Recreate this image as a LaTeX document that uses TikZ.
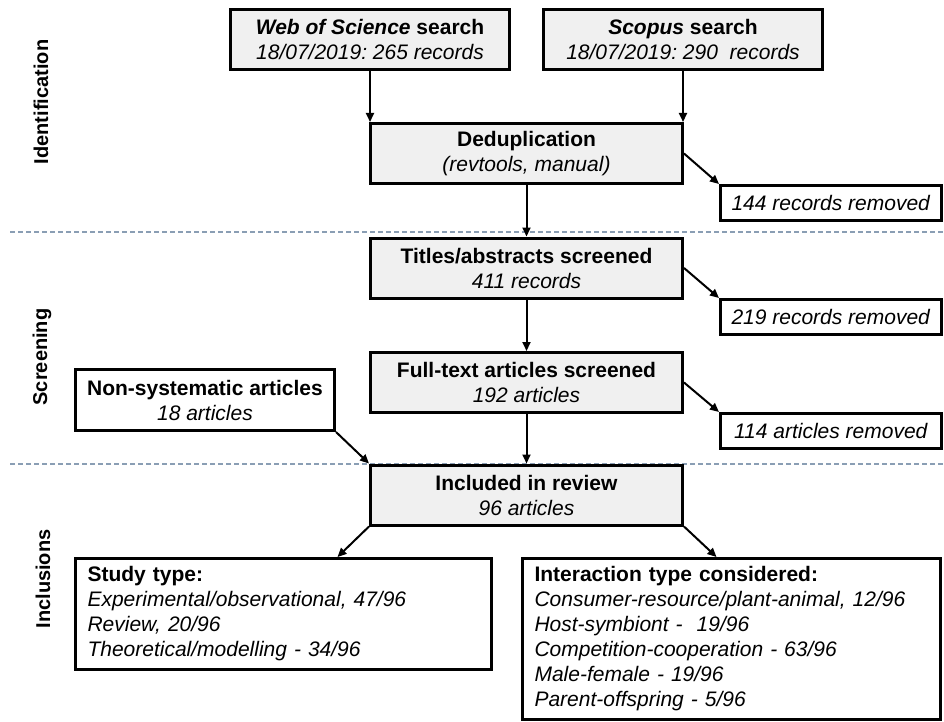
\documentclass[tikz,border=0pt]{standalone}
\usepackage{fontspec}
\setmainfont{Liberation Sans}
\frenchspacing
\usetikzlibrary{arrows.meta}
\definecolor{boxgray}{RGB}{240,240,240}
\definecolor{sepblue}{RGB}{138,158,180}
\tikzset{
  txt/.style={font=\fontsize{21}{25}\selectfont},
  graybox/.style={txt, draw, line width=3pt, fill=boxgray, align=center, inner sep=0pt, minimum width=312pt, minimum height=60pt},
  srcbox/.style={graybox, minimum width=279pt},
  rembox/.style={txt, draw, line width=3pt, fill=white, inner sep=0pt, minimum width=221pt, minimum height=35pt},
  listbox/.style={txt, draw, line width=3pt, fill=white, align=left, inner xsep=12pt, inner ysep=0pt},
  arr/.style={line width=2pt, -{Triangle[length=9pt,width=8pt]}},
  sep/.style={sepblue, line width=1.2pt, dash pattern=on 5pt off 3pt},
  phase/.style={font=\fontsize{20}{25}\selectfont\bfseries, rotate=90}
}
\begin{document}
\begin{tikzpicture}[x=1pt, y=-1pt]
\useasboundingbox (0,0) rectangle (944,722);
% stage separators
\draw[sep] (10,232) -- (944,232);
\draw[sep] (10,464) -- (944,464);
\node[phase] (idlab) at (41,102) {Identification};
\node[phase] (scrlab) at (42,357) {Screening};
\node[phase] (inclab) at (43,579) {Inclusions};
% identification
\node[srcbox] (wos) at (370,40) {\textbf{\textit{Web of Science} search}\\ \textit{18/07/2019: 265 records}};
\node[srcbox] (scopus) at (683,40) {\textbf{\textit{Scopus} search}\\ \textit{18/07/2019: 290\ \ records}};
\node[graybox] (dedup) at (526.5,153.5) {\textbf{Deduplication}\\ \textit{(revtools, manual)}};
\node[rembox] (rem1) at (831,203) {\textit{144 records removed}};
\draw[arr] (wos.south) -- (wos.south |- dedup.north);
\draw[arr] (scopus.south) -- (scopus.south |- dedup.north);
\draw[arr] (dedup.east) -- (rem1.north west);
% screening
\node[graybox] (titles) at (526.5,268) {\textbf{Titles/abstracts screened}\\ \textit{411 records}};
\node[rembox] (rem2) at (831,317) {\textit{219 records removed}};
\node[graybox] (fulltext) at (526.5,382.5) {\textbf{Full-text articles screened}\\ \textit{192 articles}};
\node[rembox] (rem3) at (831,431) {\textit{114 articles removed}};
\node[rembox, align=center, minimum width=259pt, minimum height=61pt] (nonsys) at (205,400) {\textbf{Non-systematic articles}\\ \textit{18 articles}};
\draw[arr] (dedup.south) -- (titles.north);
\draw[arr] (titles.east) -- (rem2.north west);
\draw[arr] (titles.south) -- (fulltext.north);
\draw[arr] (fulltext.east) -- (rem3.north west);
% inclusions
\node[graybox] (incl) at (526.5,495) {\textbf{Included in review}\\ \textit{96 articles}};
\draw[arr] (fulltext.south) -- (incl.north);
\draw[arr] (nonsys.south east) -- (incl.north west);
\node[listbox, text width=392pt, minimum height=111pt] (study) at (283.5,614) {\textbf{Study type:}\\
  \textit{Experimental/observational, 47/96}\\
  \textit{Review, 20/96}\\
  \textit{Theoretical/modelling - 34/96}};
\node[listbox, text width=394pt, minimum height=161pt] (inter) at (731.5,639) {\textbf{Interaction type considered:}\\
  \textit{Consumer-resource/plant-animal, 12/96}\\
  \textit{Host-symbiont -\ \ 19/96}\\
  \textit{Competition-cooperation - 63/96}\\
  \textit{Male-female - 19/96}\\
  \textit{Parent-offspring - 5/96}};
\draw[arr] (incl.south west) -- ([xshift=54pt]study.north);
\draw[arr] (incl.south east) -- ([xshift=-15pt]inter.north);
\end{tikzpicture}
\end{document}
